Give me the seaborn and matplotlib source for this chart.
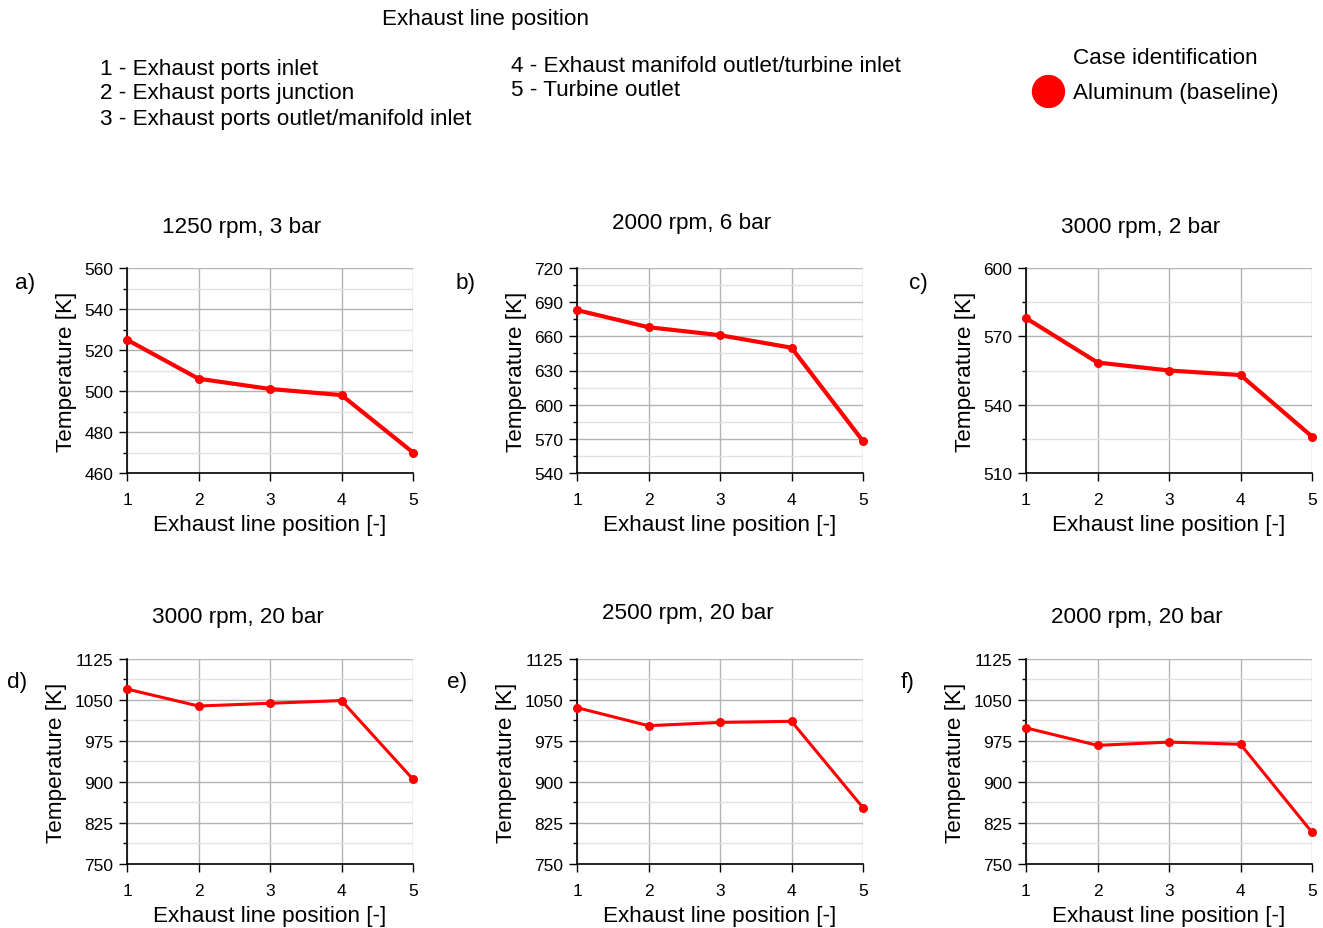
import matplotlib.pyplot as plt
import matplotlib.ticker as mticker
from matplotlib.lines import Line2D
import numpy as np
import pandas as pd
import seaborn as sns


# data
positions = [1, 2, 3, 4, 5]
temp_a = [525, 506, 501, 498, 470]
temp_b = [683, 668, 661, 650, 568]
temp_c = [578, 558.5, 555, 553, 526]
temp_d = [1070, 1039, 1044, 1049, 905]
temp_e = [1036, 1003, 1009, 1011, 853]
temp_f = [999, 967, 973, 969, 808]

titles = ['1250 rpm, 3 bar', '2000 rpm, 6 bar', '3000 rpm, 2 bar',
          '3000 rpm, 20 bar', '2500 rpm, 20 bar', '2000 rpm, 20 bar']
letters = ['a)', 'b)', 'c)', 'd)', 'e)', 'f)']
y_ranges = [(460, 560, 20), (540, 720, 30), (510, 600, 30),
            (750, 1125, 75), (750, 1125, 75), (750, 1125, 75)]
position_names = ['1 - Exhaust ports inlet', '2 - Exhaust ports junction',
                  '3 - Exhaust ports outlet/manifold inlet',
                  '4 - Exhaust manifold outlet/turbine inlet', '5 - Turbine outlet']

sns.set_style("ticks")
plt.rcParams['font.family'] = ['Liberation Sans', 'DejaVu Sans']
plt.rcParams['text.color'] = 'black'
plt.rcParams['axes.labelcolor'] = 'black'
plt.rcParams['xtick.color'] = 'black'
plt.rcParams['ytick.color'] = 'black'

W, H = 1323, 929
FS = 16.2
fig = plt.figure(figsize=(W / 100, H / 100), dpi=100)


def px(x, y):
    return x / W, 1 - y / H


# axes boxes in pixels: left, top
lefts = [127, 577, 1026]
tops = [269, 660]
ax_w, ax_h = 286, 205

all_temps = [temp_a, temp_b, temp_c, temp_d, temp_e, temp_f]
title_xy = [(242, 227), (692, 224), (1141, 227), (238, 617), (688, 614), (1137, 617)]
letter_xy = [(25, 283), (466, 283), (918, 283), (17, 683), (457, 683), (908, 683)]

for i, temps in enumerate(all_temps):
    row, col = divmod(i, 3)
    l, b = px(lefts[col], tops[row] + ax_h)
    ax = fig.add_axes([l, b, ax_w / W, ax_h / H])
    df = pd.DataFrame({'pos': positions, 'T': temps})
    lw = 3 if row == 0 else 2.2
    sns.lineplot(data=df, x='pos', y='T', ax=ax, color='#ff0000', linewidth=lw,
                 marker='o', markersize=6.5, markeredgewidth=0, zorder=5, clip_on=False)

    lo, hi, step = y_ranges[i]
    ax.set_ylim(lo, hi)
    ax.set_xlim(1, 5)
    ax.set_yticks(np.arange(lo, hi + 1, step))
    ax.yaxis.set_minor_locator(mticker.AutoMinorLocator(2))
    ax.set_xticks(positions)

    ax.grid(which='major', color='#b4b4b4', linewidth=1)
    ax.grid(which='minor', axis='y', color='#e2e2e2', linewidth=1)
    ax.set_axisbelow(True)
    for s in ['top', 'right']:
        ax.spines[s].set_visible(False)
    for s in ['left', 'bottom']:
        ax.spines[s].set_color('black')
        ax.spines[s].set_linewidth(1.2)
    ax.tick_params(which='major', length=6, width=1, labelsize=12.5)
    ax.tick_params(axis='x', which='major', pad=8)
    ax.tick_params(axis='y', which='major', pad=4)
    ax.tick_params(which='minor', length=3, width=1)

    ax.set_xlabel('Exhaust line position [-]', fontsize=FS, labelpad=5)
    ax.set_ylabel('Temperature [K]', fontsize=FS, labelpad=5)

    fig.text(*px(*title_xy[i]), titles[i], ha='center', va='center', fontsize=FS)
    fig.text(*px(*letter_xy[i]), letters[i], ha='center', va='center', fontsize=FS)

# header: exhaust line positions
fig.text(*px(486, 19), 'Exhaust line position', ha='center', va='center', fontsize=FS)
for name, y in zip(position_names[:3], [69, 94, 120]):
    fig.text(*px(100, y), name, ha='left', va='center', fontsize=FS)
for name, y in zip(position_names[3:], [66, 91]):
    fig.text(*px(511, y), name, ha='left', va='center', fontsize=FS)

# case legend
fig.text(*px(1073, 59), 'Case identification', ha='left', va='center', fontsize=FS)
handle = Line2D([], [], marker='o', color='#ff0000', linestyle='none', markersize=23)
leg = fig.legend(handles=[handle], labels=['Aluminum (baseline)'],
                 loc='center left', bbox_to_anchor=px(1032, 94), frameon=False,
                 fontsize=FS, handletextpad=0.41, borderpad=0, borderaxespad=0,
                 handlelength=1.4)

fig.savefig('out.png', dpi=100)
